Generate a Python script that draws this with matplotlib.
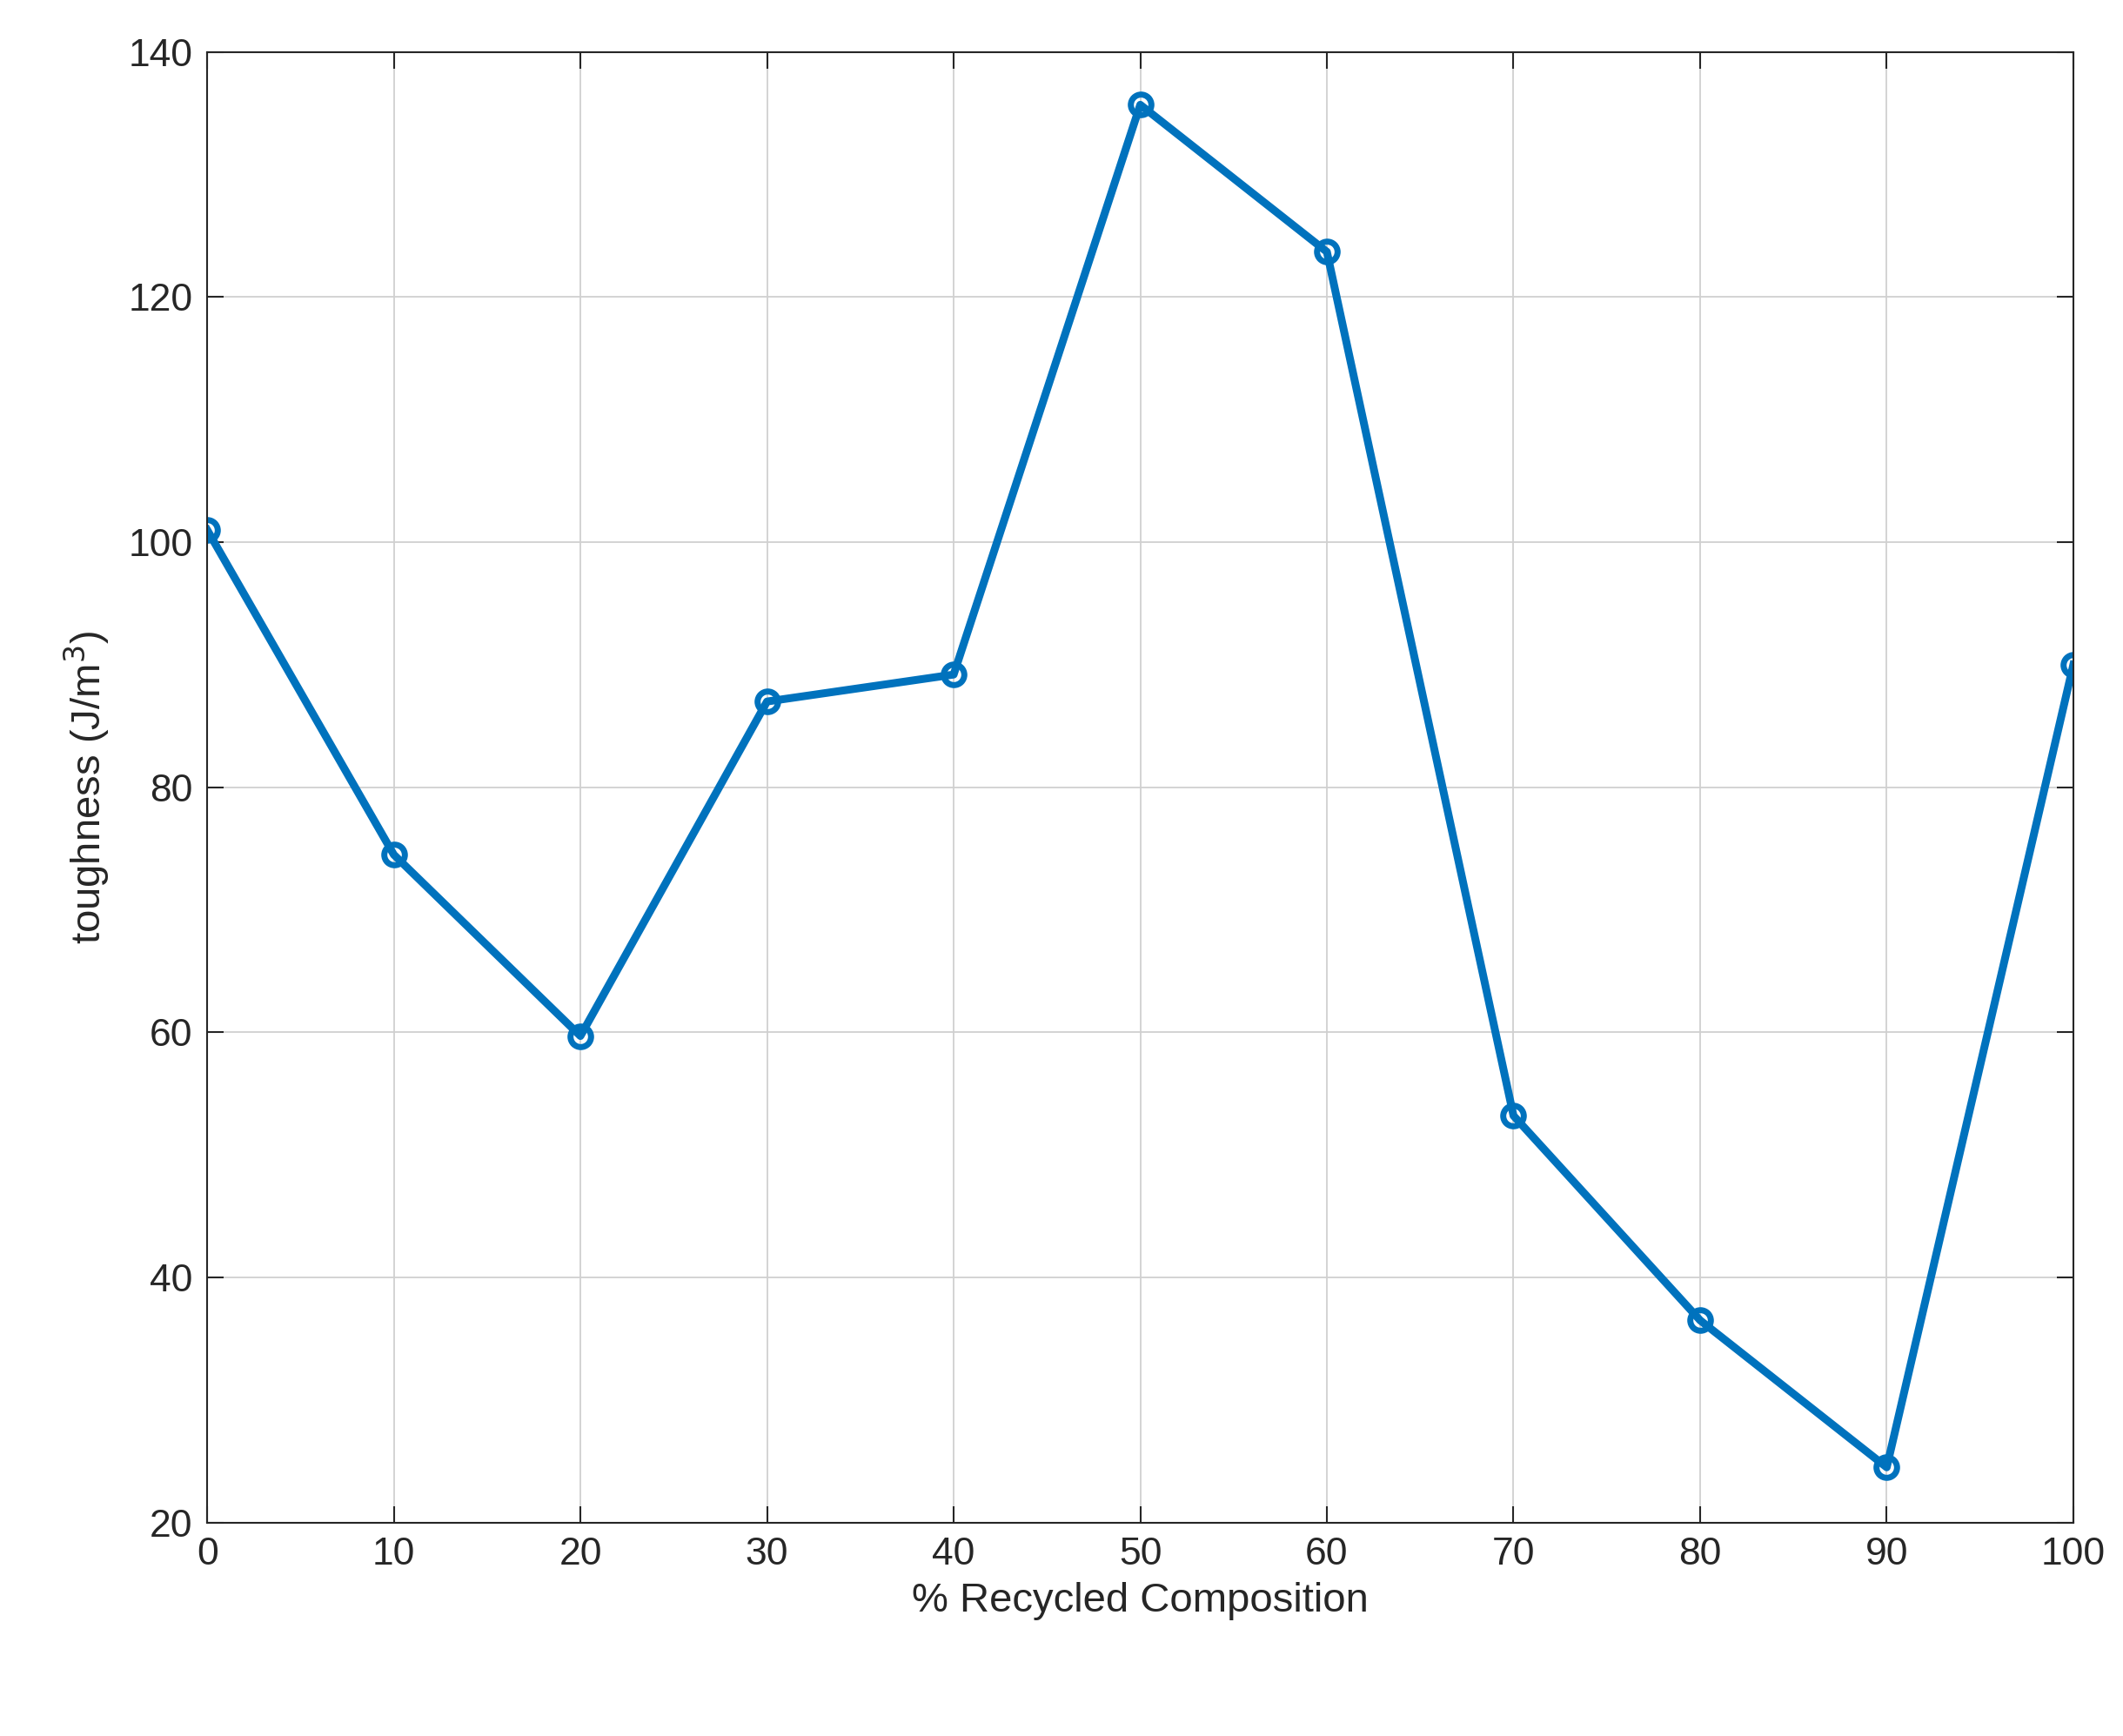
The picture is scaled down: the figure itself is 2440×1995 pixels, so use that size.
import matplotlib
matplotlib.use("Agg")
from matplotlib import pyplot as plt

plt.rcParams['font.family'] = ['Liberation Sans', 'DejaVu Sans']

# Data
recycled = [0, 10, 20, 30, 40, 50, 60, 70, 80, 90, 100]
toughness = [101.0, 74.5, 59.7, 87.0, 89.2, 135.7, 123.7, 53.2, 36.5, 24.5, 90.0]

fig = plt.figure(figsize=(24.4, 19.95), dpi=100)
ax = fig.add_axes([0.0976, 0.123, 0.879, 0.847])

ax.plot(recycled, toughness, '-o', color='#0072BD', linewidth=6.5,
        markersize=17, markerfacecolor='none', markeredgewidth=5)

ax.set_xlim(0, 100)
ax.set_ylim(20, 140)
ax.set_xticks(range(0, 101, 10))
ax.set_yticks(range(20, 141, 20))
ax.grid(True, color='#d0d0d0', linewidth=1.3)
ax.set_axisbelow(True)
ax.tick_params(direction='in', length=14, width=1.5, labelsize=32,
               top=True, right=True, colors='#262626', pad=12)
for s in ax.spines.values():
    s.set_linewidth(1.5)
    s.set_color('#262626')

ax.set_xlabel('% Recycled Composition', fontsize=34, color='#262626', labelpad=8)
ax.set_ylabel('toughness (J/m$^3$)', fontsize=34, color='#262626', labelpad=14)

fig.savefig('out.png')
